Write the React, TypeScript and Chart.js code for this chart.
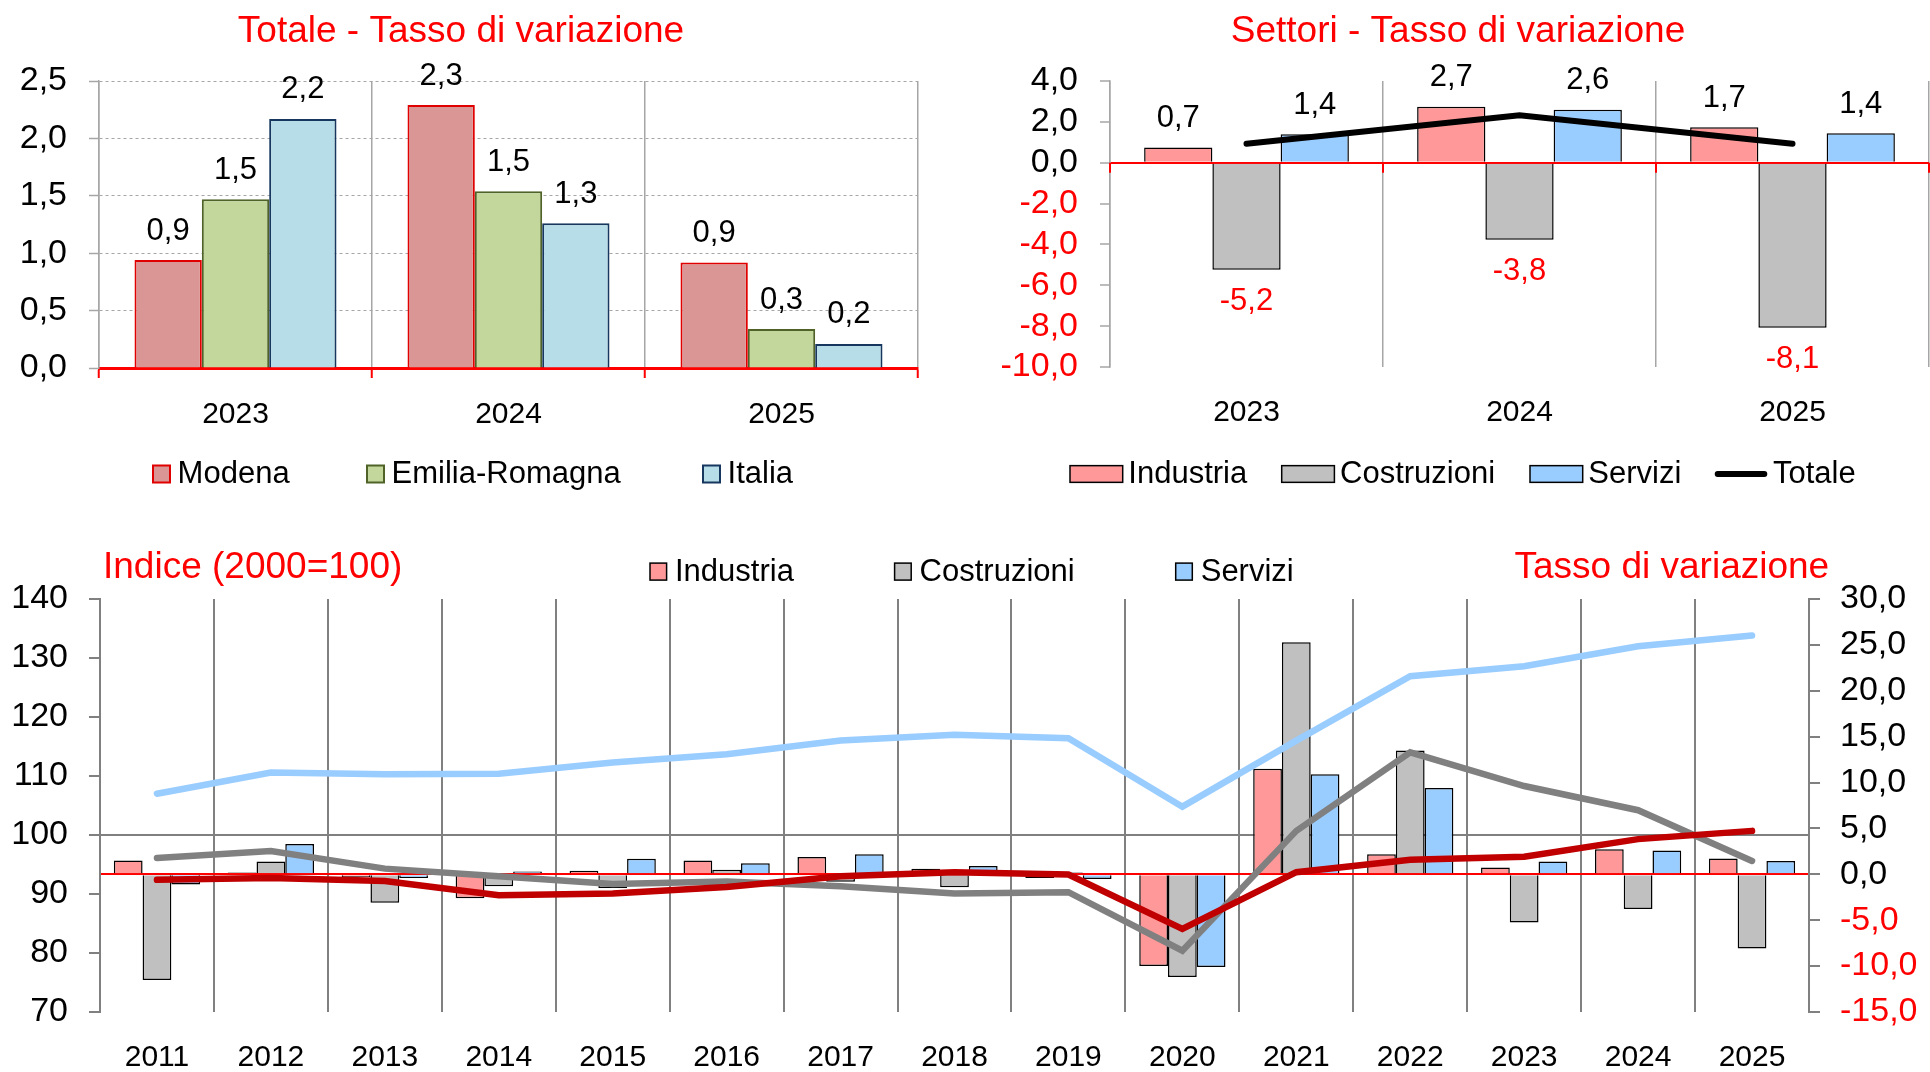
import React, { useEffect, useRef } from 'react';
import { Chart, registerables } from 'chart.js';

Chart.register(...registerables);

const FONT = "'Liberation Sans', Arial, Helvetica, sans-serif";
Chart.defaults.font.family = FONT;

// ---------- Top-left: Totale - Tasso di variazione ----------
const totYears = ['2023', '2024', '2025'];
const totModena = [0.94, 2.29, 0.92];
const totEmilia = [1.47, 1.54, 0.34];
const totItalia = [2.17, 1.26, 0.21];

// ---------- Top-right: Settori - Tasso di variazione ----------
const secYears = ['2023', '2024', '2025'];
const secIndustria = [0.74, 2.74, 1.73];
const secCostruzioni = [-5.24, -3.77, -8.08];
const secServizi = [1.39, 2.59, 1.44];
const secTotale = [0.93, 2.32, 0.93];

// ---------- Bottom: Indice (2000=100) / Tasso di variazione ----------
const idxYears = ['2011', '2012', '2013', '2014', '2015', '2016', '2017', '2018', '2019', '2020', '2021', '2022', '2023', '2024', '2025'];
const rateIndustria = [1.5, 0.2, -0.3, -2.6, 0.4, 1.5, 1.9, 0.6, -0.4, -10.0, 11.5, 2.2, 0.74, 2.74, 1.73];
const rateCostruzioni = [-11.5, 1.4, -3.1, -1.3, -1.5, 0.5, -0.8, -1.4, 0.2, -11.2, 25.3, 13.5, -5.24, -3.77, -8.08];
const rateServizi = [-1.1, 3.3, -0.4, 0.3, 1.7, 1.2, 2.2, 0.9, -0.5, -10.1, 10.9, 9.4, 1.39, 2.59, 1.44];
const idxIndustria = [92.4, 92.7, 92.2, 89.8, 90.1, 91.2, 93.0, 93.7, 93.3, 84.1, 93.7, 95.8, 96.3, 99.3, 100.7];
const idxCostruzioni = [96.1, 97.3, 94.3, 93.0, 91.7, 92.1, 91.3, 90.1, 90.3, 80.4, 100.7, 114.0, 108.3, 104.2, 95.6];
const idxServizi = [107.0, 110.6, 110.3, 110.4, 112.3, 113.7, 116.0, 117.0, 116.4, 104.8, 116.0, 126.9, 128.6, 132.0, 133.8];

const fmt = (v: number) => Number(v).toFixed(1).replace('.', ',');
const TRANSPARENT = 'rgba(0,0,0,0)';
const TICK_SIZE = 34;
const LABEL_SIZE = 31;

// ---------- plugins ----------
const titlesPlugin = {
  id: 'titles',
  afterDraw(chart: any, _a: any, opts: any) {
    const ctx = chart.ctx;
    for (const t of opts.items || []) {
      ctx.save();
      ctx.font = `${t.size}px ${FONT}`;
      ctx.fillStyle = t.color;
      ctx.textAlign = t.align || 'left';
      ctx.textBaseline = 'alphabetic';
      ctx.fillText(t.text, t.x, t.y);
      ctx.restore();
    }
  },
};

const legendPlugin = {
  id: 'boxLegend',
  afterDraw(chart: any, _a: any, opts: any) {
    const ctx = chart.ctx;
    for (const it of opts.items || []) {
      const ds = chart.data.datasets[it.ds];
      ctx.save();
      let textX;
      if (it.kind === 'line') {
        ctx.strokeStyle = ds.borderColor;
        ctx.lineWidth = it.lineWidth;
        ctx.lineCap = 'round';
        ctx.beginPath();
        ctx.moveTo(it.x + it.lineWidth / 2, opts.y);
        ctx.lineTo(it.x + it.len - it.lineWidth / 2, opts.y);
        ctx.stroke();
        textX = it.x + it.len + opts.gap;
      } else {
        const top = opts.y - opts.boxH / 2;
        ctx.fillStyle = ds.backgroundColor;
        ctx.fillRect(it.x, top, opts.boxW, opts.boxH);
        ctx.strokeStyle = ds.borderColor;
        ctx.lineWidth = opts.borderWidth;
        ctx.strokeRect(it.x, top, opts.boxW, opts.boxH);
        textX = it.x + opts.boxW + opts.gap;
      }
      ctx.font = `${opts.size}px ${FONT}`;
      ctx.fillStyle = '#000';
      ctx.textAlign = 'left';
      ctx.textBaseline = 'alphabetic';
      ctx.fillText(ds.label, textX, opts.textY);
      ctx.restore();
    }
  },
};

const labelsPlugin = {
  id: 'barLabels',
  afterDraw(chart: any, _a: any, opts: any) {
    const ctx = chart.ctx;
    for (const i of opts.datasets || []) {
      const meta = chart.getDatasetMeta(i);
      const data = chart.data.datasets[i].data;
      meta.data.forEach((el: any, j: number) => {
        const v = data[j];
        const p = el.getProps(['x', 'y'], true);
        const neg = v < 0;
        ctx.save();
        ctx.font = `${opts.size}px ${FONT}`;
        ctx.fillStyle = neg ? opts.neg : opts.pos;
        ctx.textAlign = 'center';
        ctx.textBaseline = 'middle';
        ctx.fillText(fmt(v), p.x, neg ? p.y + opts.below : p.y - opts.above);
        ctx.restore();
      });
    }
  },
};

const zeroTicksPlugin = {
  id: 'zeroTicks',
  afterDraw(chart: any, _a: any, opts: any) {
    if (!opts || !opts.enabled) return;
    const ctx = chart.ctx;
    const xs = chart.scales.x;
    const ys = chart.scales[opts.axis || 'y'];
    const y0 = ys.getPixelForValue(0);
    const n = chart.data.labels.length;
    ctx.save();
    ctx.strokeStyle = opts.color;
    ctx.lineWidth = opts.width;
    for (let i = 0; i <= n; i++) {
      const x = xs.getPixelForValue(i - 0.5);
      ctx.beginPath();
      ctx.moveTo(x, y0);
      ctx.lineTo(x, y0 + opts.length);
      ctx.stroke();
    }
    ctx.restore();
  },
};

const allPlugins = [titlesPlugin, legendPlugin, labelsPlugin, zeroTicksPlugin];

// ---------- configs ----------
const cfgTotale = (): any => ({
  type: 'bar',
  data: {
    labels: totYears,
    datasets: [
      { label: 'Modena', data: totModena, backgroundColor: '#D99694', borderColor: '#E00000', borderWidth: 2 },
      { label: 'Emilia-Romagna', data: totEmilia, backgroundColor: '#C3D69B', borderColor: '#4F6228', borderWidth: 2 },
      { label: 'Italia', data: totItalia, backgroundColor: '#B7DEE8', borderColor: '#17375E', borderWidth: 2 },
    ],
  },
  options: {
    responsive: false,
    animation: false,
    datasets: { bar: { categoryPercentage: 0.74, barPercentage: 1 } },
    layout: { padding: { left: 0, right: 42, top: 81, bottom: 0 } },
    plugins: {
      legend: { display: false },
      tooltip: { enabled: false },
      titles: { items: [{ text: 'Totale - Tasso di variazione', x: 461, y: 42, size: 37, color: '#FF0000', align: 'center' }] },
      boxLegend: {
        y: 474, textY: 483, boxW: 17, boxH: 17, gap: 7.6, size: 31, borderWidth: 2,
        items: [{ ds: 0, x: 153 }, { ds: 1, x: 367 }, { ds: 2, x: 703 }],
      },
      barLabels: { datasets: [0, 1, 2], size: LABEL_SIZE, above: 29, below: 32, pos: '#000', neg: '#000' },
    },
    scales: {
      x: {
        grid: { color: '#A6A6A6', lineWidth: 1.5, tickColor: '#FF0000', tickLength: 10, tickWidth: 2 },
        border: { color: '#FF0000', width: 3 },
        ticks: { color: '#000', font: { size: 30 }, padding: 19 },
        afterFit: (s: any) => { s.height = 132; },
      },
      y: {
        min: 0,
        max: 2.5,
        ticks: { stepSize: 0.5, autoSkip: false, callback: (v: any) => fmt(v), color: '#000', font: { size: TICK_SIZE }, padding: 22 },
        grid: {
          color: (c: any) => (c.tick && c.tick.value === 0 ? TRANSPARENT : '#A6A6A6'),
          lineWidth: 1,
          tickColor: '#A6A6A6',
          tickLength: 10,
          tickWidth: 1.5,
        },
        border: { color: '#A6A6A6', width: 1.5, dash: [3, 3] },
        afterFit: (s: any) => { s.width = 99; },
      },
    },
  },
  plugins: allPlugins,
});

const cfgSettori = (): any => ({
  type: 'bar',
  data: {
    labels: secYears,
    datasets: [
      { label: 'Industria', data: secIndustria, backgroundColor: '#FF9999', borderColor: '#000', borderWidth: 1.5, order: 2 },
      { label: 'Costruzioni', data: secCostruzioni, backgroundColor: '#C0C0C0', borderColor: '#000', borderWidth: 1.5, order: 2 },
      { label: 'Servizi', data: secServizi, backgroundColor: '#99CCFF', borderColor: '#000', borderWidth: 1.5, order: 2 },
      {
        type: 'line', label: 'Totale', data: secTotale, borderColor: '#000', backgroundColor: '#000',
        borderWidth: 6, pointRadius: 0, borderCapStyle: 'round', tension: 0, order: 1,
      },
    ],
  },
  options: {
    responsive: false,
    animation: false,
    datasets: { bar: { categoryPercentage: 0.75, barPercentage: 1 } },
    layout: { padding: { left: 0, right: 1, top: 81, bottom: 0 } },
    plugins: {
      legend: { display: false },
      tooltip: { enabled: false },
      titles: { items: [{ text: 'Settori - Tasso di variazione', x: 498, y: 42, size: 37, color: '#FF0000', align: 'center' }] },
      boxLegend: {
        y: 474, textY: 483, boxW: 52.7, boxH: 16.7, gap: 5.6, size: 31, borderWidth: 1.5,
        items: [{ ds: 0, x: 110 }, { ds: 1, x: 321.7 }, { ds: 2, x: 570 }, { ds: 3, x: 754.7, kind: 'line', len: 52.6, lineWidth: 6 }],
      },
      barLabels: { datasets: [0, 1, 2], size: LABEL_SIZE, above: 29, below: 32, pos: '#000', neg: '#FF0000' },
      zeroTicks: { enabled: true, color: '#FF0000', width: 2, length: 10, axis: 'y' },
    },
    scales: {
      x: {
        grid: { color: '#A6A6A6', lineWidth: 1.5, drawTicks: false },
        border: { display: false },
        ticks: { color: '#000', font: { size: 30 }, padding: 28 },
        afterFit: (s: any) => { s.height = 133; },
      },
      y: {
        min: -10,
        max: 4,
        ticks: {
          stepSize: 2,
          autoSkip: false,
          callback: (v: any) => fmt(v),
          color: (c: any) => (c.tick && c.tick.value < 0 ? '#FF0000' : '#000'),
          font: { size: TICK_SIZE },
          padding: 22,
        },
        grid: {
          color: (c: any) => (c.tick && c.tick.value === 0 ? '#FF0000' : TRANSPARENT),
          lineWidth: 2,
          tickColor: '#A6A6A6',
          tickLength: 10,
          tickWidth: 1.5,
        },
        border: { color: '#A6A6A6', width: 1.5 },
        afterFit: (s: any) => { s.width = 150; },
      },
    },
  },
  plugins: allPlugins,
});

const cfgIndice = (): any => ({
  type: 'bar',
  data: {
    labels: idxYears,
    datasets: [
      { label: 'Industria', data: rateIndustria, backgroundColor: '#FF9999', borderColor: '#000', borderWidth: 1.5, yAxisID: 'y1', order: 2 },
      { label: 'Costruzioni', data: rateCostruzioni, backgroundColor: '#C0C0C0', borderColor: '#000', borderWidth: 1.5, yAxisID: 'y1', order: 2 },
      { label: 'Servizi', data: rateServizi, backgroundColor: '#99CCFF', borderColor: '#000', borderWidth: 1.5, yAxisID: 'y1', order: 2 },
      { type: 'line', label: 'Indice Industria', data: idxIndustria, borderColor: '#C00000', borderWidth: 6.5, pointRadius: 0, borderCapStyle: 'round', tension: 0, yAxisID: 'y', order: 1 },
      { type: 'line', label: 'Indice Costruzioni', data: idxCostruzioni, borderColor: '#808080', borderWidth: 6.5, pointRadius: 0, borderCapStyle: 'round', tension: 0, yAxisID: 'y', order: 1 },
      { type: 'line', label: 'Indice Servizi', data: idxServizi, borderColor: '#99CCFF', borderWidth: 6.5, pointRadius: 0, borderCapStyle: 'round', tension: 0, yAxisID: 'y', order: 1 },
    ],
  },
  options: {
    responsive: false,
    animation: false,
    datasets: { bar: { categoryPercentage: 0.757, barPercentage: 1 } },
    layout: { padding: { left: 0, right: 0, top: 99, bottom: 0 } },
    plugins: {
      legend: { display: false },
      tooltip: { enabled: false },
      titles: {
        items: [
          { text: 'Indice (2000=100)', x: 103, y: 77.5, size: 37, color: '#FF0000', align: 'left' },
          { text: 'Tasso di variazione', x: 1514.5, y: 77.5, size: 37, color: '#FF0000', align: 'left' },
        ],
      },
      boxLegend: {
        y: 71.6, textY: 80.7, boxW: 16.6, boxH: 17, gap: 8.4, size: 31, borderWidth: 1.5,
        items: [{ ds: 0, x: 650 }, { ds: 1, x: 894.6 }, { ds: 2, x: 1175.7 }],
      },
    },
    scales: {
      x: {
        grid: { color: '#808080', lineWidth: 2, drawTicks: false },
        border: { display: false },
        ticks: { color: '#000', font: { size: 30 }, padding: 28 },
        afterFit: (s: any) => { s.height = 60; },
      },
      y: {
        position: 'left',
        min: 70,
        max: 140,
        ticks: { stepSize: 10, autoSkip: false, color: '#000', font: { size: TICK_SIZE }, padding: 21 },
        grid: {
          color: (c: any) => (c.tick && c.tick.value === 100 ? '#808080' : TRANSPARENT),
          lineWidth: 2,
          tickColor: '#808080',
          tickLength: 11,
          tickWidth: 2,
        },
        border: { color: '#808080', width: 2 },
        afterFit: (s: any) => { s.width = 100; },
      },
      y1: {
        position: 'right',
        min: -15,
        max: 30,
        ticks: {
          stepSize: 5,
          autoSkip: false,
          callback: (v: any) => fmt(v),
          color: (c: any) => (c.tick && c.tick.value < 0 ? '#FF0000' : '#000'),
          font: { size: TICK_SIZE },
          padding: 20,
        },
        grid: {
          color: (c: any) => (c.tick && c.tick.value === 0 ? '#FF0000' : TRANSPARENT),
          lineWidth: 2,
          tickColor: '#808080',
          tickLength: 11,
          tickWidth: 2,
        },
        border: { color: '#808080', width: 2 },
        afterFit: (s: any) => { s.width = 121; },
      },
    },
  },
  plugins: allPlugins,
});

function ChartCanvas(props: { make: () => any; left: number; top: number; width: number; height: number }) {
  const ref = useRef<HTMLCanvasElement>(null);
  useEffect(() => {
    const chart = new Chart(ref.current as HTMLCanvasElement, props.make());
    return () => chart.destroy();
  }, []);
  return (
    <canvas
      ref={ref}
      width={props.width}
      height={props.height}
      style={{ position: 'absolute', left: props.left, top: props.top, width: props.width, height: props.height, display: 'block' }}
    />
  );
}

export default function App() {
  return (
    <div style={{ position: 'absolute', left: 0, top: 0, width: 1930, height: 1072, background: '#fff', overflow: 'hidden' }}>
      <ChartCanvas make={cfgTotale} left={0} top={0} width={960} height={500} />
      <ChartCanvas make={cfgSettori} left={960} top={0} width={970} height={500} />
      <ChartCanvas make={cfgIndice} left={0} top={500} width={1930} height={572} />
    </div>
  );
}
